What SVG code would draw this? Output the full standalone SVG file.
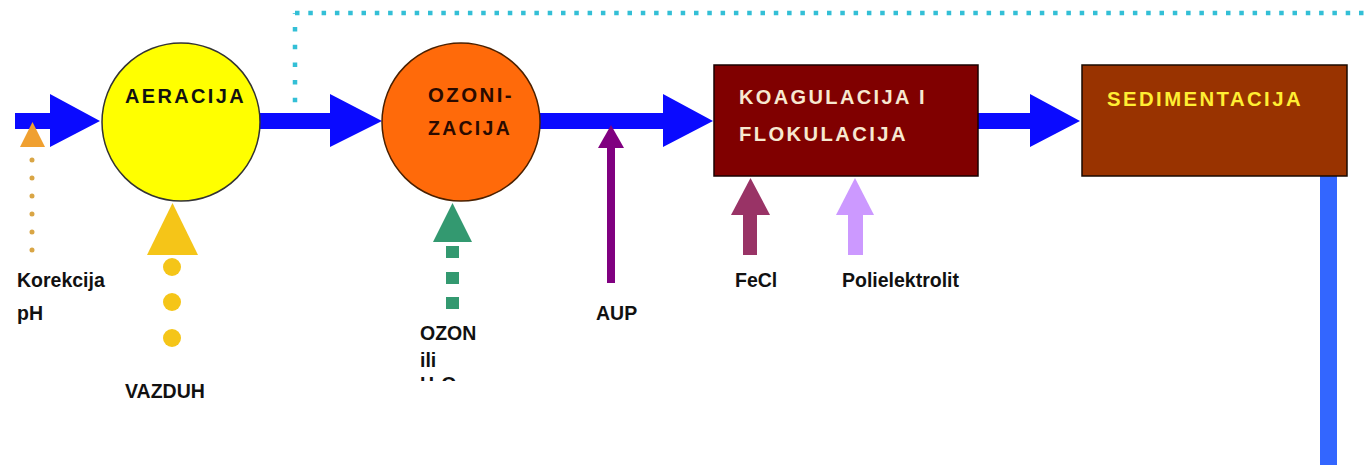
<svg xmlns="http://www.w3.org/2000/svg" width="1372" height="465" viewBox="0 0 1372 465">
<style>
.lbl{font-family:"Liberation Sans",Arial,sans-serif;font-weight:bold;font-size:19.5px;fill:#111}
.ttl{font-family:"Liberation Sans",Arial,sans-serif;font-weight:bold;font-size:21px;letter-spacing:2.5px}
.flow{fill:#0a0aff}
</style>
<defs>
<clipPath id="clipOzon"><rect x="400" y="310" width="100" height="71"/></clipPath>
</defs>
<rect width="1372" height="465" fill="#ffffff"/>
<g id="connectors">
<path d="M295 120 V13" fill="none" stroke="#33bfd6" stroke-width="4.5" stroke-dasharray="4.5 13.2"/>
<path d="M295 13 H1372" fill="none" stroke="#33bfd6" stroke-width="4.5" stroke-dasharray="4.5 8.8"/>
<polygon class="flow" points="15,113 50,113 50,94 100,121 50,147 50,129 15,129"/>
<polygon class="flow" points="259,113 330,113 330,94 382,121 330,147 330,129 259,129"/>
<polygon class="flow" points="540,113 663,113 663,94 713,121 663,147 663,129 540,129"/>
<polygon class="flow" points="978,113 1030,113 1030,94 1080,121 1030,147 1030,129 978,129"/>
<rect x="1320" y="176" width="17" height="289" fill="#3366ff"/>
<g id="korekcija-arrow">
<polygon points="20,147 45,147 32.5,122" fill="#f0a030"/>
<path d="M32 160 V252" fill="none" stroke="#d9a545" stroke-width="5" stroke-linecap="round" stroke-dasharray="0 18"/>
</g>
<g id="vazduh-arrow" fill="#f5c518">
<polygon points="147,255 198,255 172.5,203"/>
<circle cx="172" cy="267" r="9"/>
<circle cx="172" cy="302" r="9"/>
<circle cx="172" cy="338" r="9"/>
</g>
<g id="ozon-arrow" fill="#339970">
<polygon points="433,242 472,242 452.5,203"/>
<rect x="446" y="246" width="13" height="12"/>
<rect x="446" y="272" width="13" height="12"/>
<rect x="446" y="297" width="13" height="12"/>
</g>
<g id="aup-arrow" fill="#800080">
<rect x="607" y="145" width="8" height="138"/>
<polygon points="598,148 624,148 611,125"/>
</g>
<g id="fecl-arrow" fill="#993366">
<rect x="743" y="213" width="14" height="42"/>
<polygon points="731,215 770,215 750.5,178"/>
</g>
<g id="polielektrolit-arrow" fill="#cc99ff">
<rect x="848" y="213" width="15" height="42"/>
<polygon points="836,215 874,215 855,178"/>
</g>
</g>
<g id="aeracija">
<circle cx="181" cy="122" r="79" fill="#ffff00" stroke="#333" stroke-width="1.5"/>
<text class="ttl" x="125" y="103" textLength="121" lengthAdjust="spacingAndGlyphs" fill="#111">AERACIJA</text>
</g>
<g id="ozonizacija">
<circle cx="461" cy="122" r="79" fill="#ff6a0a" stroke="#4a2000" stroke-width="1.5"/>
<text class="ttl" x="428" y="102" textLength="86" lengthAdjust="spacingAndGlyphs" fill="#2a0a00">OZONI-</text>
<text class="ttl" x="428" y="135" textLength="84" lengthAdjust="spacingAndGlyphs" fill="#2a0a00">ZACIJA</text>
</g>
<g id="koagulacija">
<rect x="714" y="65" width="264" height="111" fill="#800000" stroke="#1a0000" stroke-width="1.5"/>
<text class="ttl" x="739" y="104" textLength="188" lengthAdjust="spacingAndGlyphs" fill="#f7e8d0">KOAGULACIJA I</text>
<text class="ttl" x="739" y="141" textLength="169" lengthAdjust="spacingAndGlyphs" fill="#f7e8d0">FLOKULACIJA</text>
</g>
<g id="sedimentacija">
<rect x="1082" y="65" width="265" height="111" fill="#993300" stroke="#1a0a00" stroke-width="1.5"/>
<text class="ttl" x="1107" y="106" textLength="196" lengthAdjust="spacingAndGlyphs" fill="#ffee33">SEDIMENTACIJA</text>
</g>
<g id="label-korekcija">
<text class="lbl" x="17" y="287">Korekcija</text>
<text class="lbl" x="17" y="320">pH</text>
</g>
<g id="label-vazduh">
<text class="lbl" x="125" y="398">VAZDUH</text>
</g>
<g id="label-ozon" clip-path="url(#clipOzon)">
<text class="lbl" x="420" y="340">OZON</text>
<text class="lbl" x="420" y="367">ili</text>
<text class="lbl" x="420" y="391">H<tspan font-size="13px" dy="4">2</tspan><tspan dy="-4">O</tspan><tspan font-size="13px" dy="4">2</tspan></text>
</g>
<g id="label-aup">
<text class="lbl" x="596" y="320">AUP</text>
</g>
<g id="label-fecl">
<text class="lbl" x="735" y="287">FeCl</text>
</g>
<g id="label-polielektrolit">
<text class="lbl" x="842" y="287">Polielektrolit</text>
</g>
</svg>
